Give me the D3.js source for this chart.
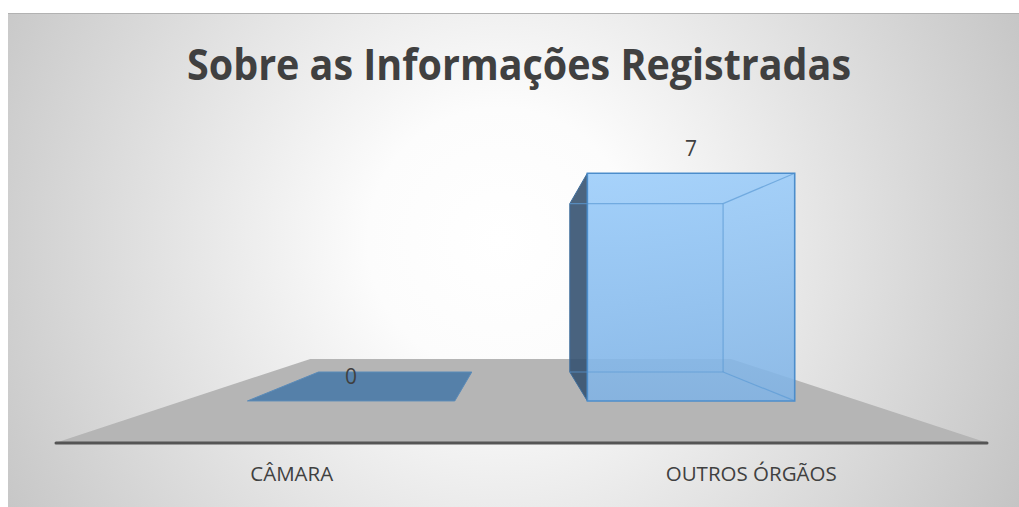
<!DOCTYPE html>
<html>
<head>
<meta charset="utf-8">
<script src="https://cdn.jsdelivr.net/npm/d3@7"></script>
<style>
  html, body { margin: 0; padding: 0; background: #ffffff; }
  svg { display: block; }
</style>
</head>
<body>
<svg id="chart" width="1019" height="507"></svg>
<script>
// ---- data ----
const title = "Sobre as Informações Registradas";
const categories = ["CÂMARA", "OUTROS ÓRGÃOS"];
const values = [0, 7];
const valueDomain = [0, 8];

// ---- layout ----
const W = 1019, H = 507;
const svg = d3.select("#chart");
const defs = svg.append("defs");

// perspective: vanishing point and depth scale factors
const VP = [520, 290];
const sFloorFront = 1, sBarFront = 0.725, sBarBack = 0.536, sFloorBack = 0.451, sLabel = 0.98;
const P = (X, Y, s) => [VP[0] + (X - VP[0]) * s, VP[1] + (Y - VP[1]) * s];

const x = d3.scaleBand().domain(categories).range([55, 988]).paddingInner(0.39).paddingOuter(0.19);
const y = d3.scaleLinear().domain(valueDomain).range([443, 84]);

// background
const bg = defs.append("radialGradient").attr("id", "bg")
  .attr("gradientUnits", "userSpaceOnUse").attr("cx", 500).attr("cy", 240).attr("r", 600);
bg.append("stop").attr("offset", 0).attr("stop-color", "#ffffff");
bg.append("stop").attr("offset", 0.22).attr("stop-color", "#fcfcfc");
bg.append("stop").attr("offset", 1).attr("stop-color", "#c2c2c2");
svg.append("rect").attr("x", 8).attr("y", 13).attr("width", W - 8).attr("height", H - 13).attr("fill", "url(#bg)");
svg.append("line").attr("x1", 8).attr("x2", W).attr("y1", 13.5).attr("y2", 13.5)
  .attr("stroke", "#b2b2b2").attr("stroke-width", 1);

// title
svg.append("text").attr("x", 519).attr("y", 80).attr("text-anchor", "middle")
  .attr("font-family", "'Open Sans', sans-serif").attr("font-weight", 700).attr("font-size", 43)
  .attr("fill", "#404040").attr("textLength", 664).attr("lengthAdjust", "spacingAndGlyphs")
  .text(title);

// floor
const [x0, x1] = x.range();
const y0 = y(0);
const floorPts = [P(x0, y0, sFloorFront), P(x1, y0, sFloorFront), P(x1, y0, sFloorBack), P(x0, y0, sFloorBack)];
svg.append("polygon").attr("points", floorPts.map(p => p.join(",")).join(" ")).attr("fill", "#b5b5b5");
svg.append("line").attr("x1", x0 + 1).attr("x2", x1 - 1).attr("y1", y0).attr("y2", y0)
  .attr("stroke", "#555555").attr("stroke-width", 3).attr("stroke-linecap", "round");

// bar gradients
const fg = defs.append("linearGradient").attr("id", "front").attr("x1", 0).attr("y1", 0).attr("x2", 0).attr("y2", 1);
fg.append("stop").attr("offset", 0).attr("stop-color", "#98cbfa");
fg.append("stop").attr("offset", 1).attr("stop-color", "#7fb3e6");

const poly = (g, pts) => g.append("polygon").attr("points", pts.map(p => p.join(",")).join(" "));
const line = (g, a, b) => g.append("line").attr("x1", a[0]).attr("y1", a[1]).attr("x2", b[0]).attr("y2", b[1]);

categories.forEach((c, i) => {
  const v = values[i];
  const L = x(c), R = x(c) + x.bandwidth();
  const top = y(v), bot = y(0);
  const g = svg.append("g");
  const fTL = P(L, top, sBarFront), fTR = P(R, top, sBarFront), fBL = P(L, bot, sBarFront), fBR = P(R, bot, sBarFront);
  const bTL = P(L, top, sBarBack), bTR = P(R, top, sBarBack), bBL = P(L, bot, sBarBack), bBR = P(R, bot, sBarBack);
  if (v === 0) {
    poly(g, [fBL, fBR, bBR, bBL]).attr("fill", "#5580a9").attr("stroke", "#5b8bb8").attr("stroke-width", 1);
  } else {
    // back face & inner edges (seen through)
    poly(g, [bTL, bTR, bBR, bBL]).attr("fill", "#8fc1f0").attr("fill-opacity", 0.25);
    // left side face (dark)
    poly(g, [fTL, bTL, bBL, fBL]).attr("fill", "#33506d").attr("fill-opacity", 0.88)
      .attr("stroke", "#3d6d9c").attr("stroke-width", 1);
    // front face
    poly(g, [fTL, fTR, fBR, fBL]).attr("fill", "url(#front)").attr("fill-opacity", 0.86);
    const edges = g.append("g").attr("stroke", "#5d9bd6").attr("stroke-width", 1.2).attr("stroke-opacity", 0.7);
    line(edges, bTL, bTR); line(edges, bTR, bBR); line(edges, bBL, bBR);
    line(edges, bTR, fTR); line(edges, bBR, fBR);
    poly(g, [fTL, fTR, fBR, fBL]).attr("fill", "none").attr("stroke", "#4c8dcb").attr("stroke-width", 1.6);
  }
  // data label
  const lp = P(L + x.bandwidth() / 2, top, sBarFront);
  svg.append("text").attr("x", lp[0]).attr("y", lp[1] - 17).attr("text-anchor", "middle")
    .attr("font-family", "'Open Sans', sans-serif").attr("font-size", 21).attr("fill", "#404040")
    .text(v);
  // category label
  const cp = P(L + x.bandwidth() / 2, y0, sLabel);
  svg.append("text").attr("x", cp[0]).attr("y", 481).attr("text-anchor", "middle")
    .attr("font-family", "'Open Sans', sans-serif").attr("font-size", 20.5).attr("fill", "#404040")
    .text(c);
});
</script>
</body>
</html>
